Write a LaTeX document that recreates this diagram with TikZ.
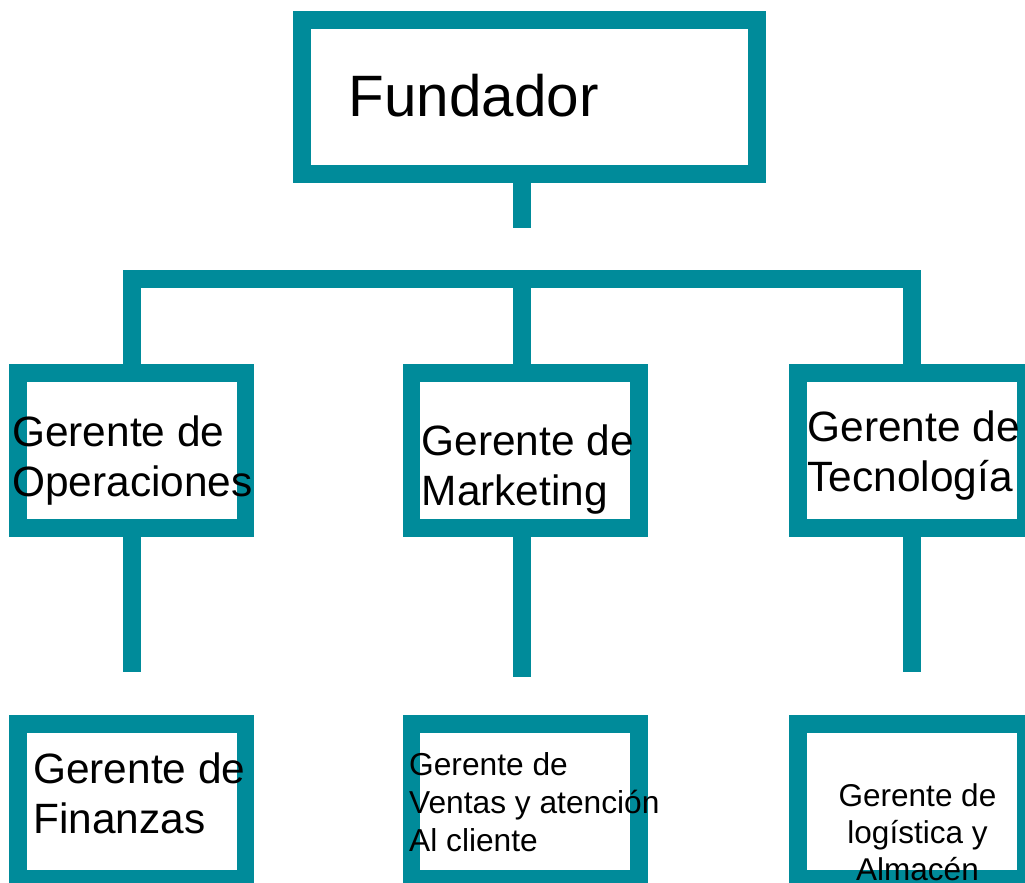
\documentclass[tikz,border=0pt]{standalone}
\usepackage{fontspec}
\setmainfont{Liberation Sans}
\definecolor{orgteal}{RGB}{0,139,154}
\begin{document}
\begin{tikzpicture}[x=1pt,y=-1pt,
  box/.style={draw=orgteal, fill=white, line width=17.5pt, minimum width=227.5pt, minimum height=154.8pt, inner sep=0pt},
  conn/.style={draw=orgteal, line width=17.4pt, line join=miter, line cap=butt},
  lbl/.style={inner sep=0pt, anchor=base west, align=left, text=black},
  big/.style={font=\fontsize{42.4}{50}\selectfont},
  small/.style={font=\fontsize{31.7}{38.3}\selectfont}]
\useasboundingbox (0,0) rectangle (1025,883);
\begin{scope}
\clip (0,0) rectangle (1025,883);
% boxes
\node[box, minimum width=454.7pt, minimum height=154pt] (fund) at (529.5,97.1) {};
\node[box] (ops) at (131.8,450.5) {};
\node[box] (mkt) at (525.2,450.5) {};
\node[box] (tec) at (911.8,450.5) {};
\node[box] (fin) at (131.8,801.5) {};
\node[box] (ven) at (525.2,801.5) {};
\node[box] (log) at (911.8,801.5) {};
% connectors
\coordinate (stub) at (522,227.7);
\coordinate (barL) at (132,279);
\coordinate (barR) at (912,279);
\coordinate (d1) at (132,671.7);
\coordinate (d2) at (522,676.7);
\coordinate (d3) at (912,671.7);
\draw[conn] (fund.south -| stub) -- (stub);
\draw[conn] (ops.north -| barL) -- (barL) -- (barR) -- (tec.north -| barR);
\draw[conn] (mkt.north -| stub) -- (stub |- barL);
\draw[conn] (ops.south -| d1) -- (d1);
\draw[conn] (mkt.south -| d2) -- (d2);
\draw[conn] (tec.south -| d3) -- (d3);
% texts (multi-line nodes: base anchor = last line's baseline)
\node[lbl, font=\fontsize{58.4}{70}\selectfont] (tfund) at (348.5,116.7) {Fundador};
\node[lbl, big] (tops) at (12,496.7) {Gerente de\\Operaciones};
\node[lbl, big] (tmkt) at (421.5,505) {Gerente de\\Marketing};
\node[lbl, big] (ttec) at (807.5,491.7) {Gerente de\\Tecnología};
\node[lbl, big] (tfin) at (33,833.3) {Gerente de\\Finanzas};
\node[lbl, small] (tven) at (409,851.7) {Gerente de\\Ventas y atención\\Al cliente};
\node[lbl, anchor=base, align=center, font=\fontsize{31.5}{36.7}\selectfont] (tlog) at (917.5,880) {Gerente de\\logística y\\Almacén};
\end{scope}
\end{tikzpicture}
\end{document}
